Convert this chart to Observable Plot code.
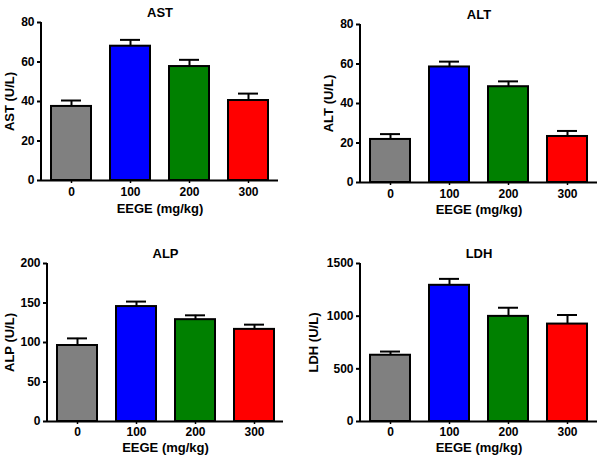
<!DOCTYPE html>
<html>
<head>
<meta charset="utf-8">
<script src="https://cdn.jsdelivr.net/npm/d3@7"></script>
<script src="https://cdn.jsdelivr.net/npm/@observablehq/plot@0.6"></script>
<style>
  body { margin: 0; background: #fff; }
  #wrap { position: relative; width: 600px; height: 460px; font-family: "Liberation Sans", Arial, sans-serif; }
  #wrap > div { position: absolute; }
</style>
</head>
<body>
<div id="wrap"></div>
<script>
const doses = ["0", "100", "200", "300"];
const barColors = ["#808080", "#0000ff", "#008000", "#ff0000"];

const astMean = [37.5, 68.0, 57.7, 40.5];
const astSem  = [3.0, 3.2, 3.4, 3.5];
const altMean = [21.8, 58.5, 48.5, 23.3];
const altSem  = [2.7, 2.7, 2.7, 2.8];
const alpMean = [96.2, 145.5, 128.9, 116.6];
const alpSem  = [9.0, 6.3, 5.5, 6.0];
const ldhMean = [629, 1293, 998, 925];
const ldhSem  = [35, 61, 82, 86];

const astTicks = [0, 20, 40, 60, 80];
const altTicks = [0, 20, 40, 60, 80];
const alpTicks = [0, 50, 100, 150, 200];
const ldhTicks = [0, 500, 1000, 1500];

const panels = [
  {title: "AST", ylabel: "AST (U/L)", mean: astMean, sem: astSem, ticks: astTicks, left: 0, top: 0,
   m: {top: 22, bottom: 50, left: 41, right: 22}, tickDy: 7, titleDy: 32, labelDx: 32},
  {title: "ALT", ylabel: "ALT (U/L)", mean: altMean, sem: altSem, ticks: altTicks, left: 300, top: 0,
   m: {top: 24, bottom: 48, left: 60, right: 3}, tickDy: 7, titleDy: 31, labelDx: 32},
  {title: "ALP", ylabel: "ALP (U/L)", mean: alpMean, sem: alpSem, ticks: alpTicks, left: 0, top: 230,
   m: {top: 33, bottom: 39, left: 47, right: 17}, tickDy: 6, titleDy: 30, labelDx: 38},
  {title: "LDH", ylabel: "LDH (U/L)", mean: ldhMean, sem: ldhSem, ticks: ldhTicks, left: 300, top: 230,
   m: {top: 33, bottom: 39, left: 60, right: 3}, tickDy: 6, titleDy: 30, labelDx: 47}
];

const wrap = document.getElementById("wrap");

for (const p of panels) {
  const data = doses.map((d, i) => ({dose: d, mean: p.mean[i], top: p.mean[i] + p.sem[i]}));
  const ymax = p.ticks[p.ticks.length - 1];
  const yAxisLine = (index, scales, values, dims) => {
    const g = d3.create("svg:line")
      .attr("x1", dims.marginLeft).attr("x2", dims.marginLeft)
      .attr("y1", scales.y(ymax)).attr("y2", scales.y(0))
      .attr("stroke", "black").attr("stroke-width", 2);
    return g.node();
  };
  const chart = Plot.plot({
    width: 300,
    height: 230,
    marginTop: p.m.top,
    marginBottom: p.m.bottom,
    marginLeft: p.m.left,
    marginRight: p.m.right,
    style: {fontFamily: "'Liberation Sans', Arial, sans-serif", background: "white"},
    x: {domain: doses, paddingInner: 0.33, paddingOuter: 0.165, axis: null, label: null},
    y: {domain: [0, ymax], axis: null, label: null},
    color: {domain: doses, range: barColors},
    marks: [
      Plot.barY(data, {x: "dose", y: "mean", fill: "dose", stroke: "black", strokeWidth: 2}),
      Plot.ruleX(data, {x: "dose", y1: "mean", y2: "top", stroke: "black", strokeWidth: 2}),
      Plot.tickY(data, {x: "dose", y: "top", stroke: "black", strokeWidth: 2, insetLeft: 10, insetRight: 10}),
      Plot.ruleY([0], {stroke: "black", strokeWidth: 2}),
      yAxisLine,
      Plot.axisY({ticks: p.ticks, tickFormat: d => String(d), tickSize: 4, tickPadding: 3, strokeWidth: 2, fontSize: 12, fontWeight: "bold", fill: "black", label: null}),
      Plot.axisX({tickSize: 3, tickPadding: p.tickDy - 3, strokeWidth: 1.5, fontSize: 12, fontWeight: "bold", fill: "black", label: null}),
      Plot.text([p.title], {frameAnchor: "top", dy: -15, fontSize: 13, fontWeight: "bold", fill: "black"}),
      Plot.text([p.ylabel], {frameAnchor: "left", dx: -p.labelDx, rotate: -90, textAnchor: "middle", lineAnchor: "middle", fontSize: 13, fontWeight: "bold", fill: "black"}),
      Plot.text(["EEGE (mg/kg)"], {frameAnchor: "bottom", dy: p.titleDy, fontSize: 13, fontWeight: "bold", fill: "black"})
    ]
  });
  const holder = document.createElement("div");
  holder.style.left = p.left + "px";
  holder.style.top = p.top + "px";
  holder.appendChild(chart);
  wrap.appendChild(holder);
}
</script>
</body>
</html>
